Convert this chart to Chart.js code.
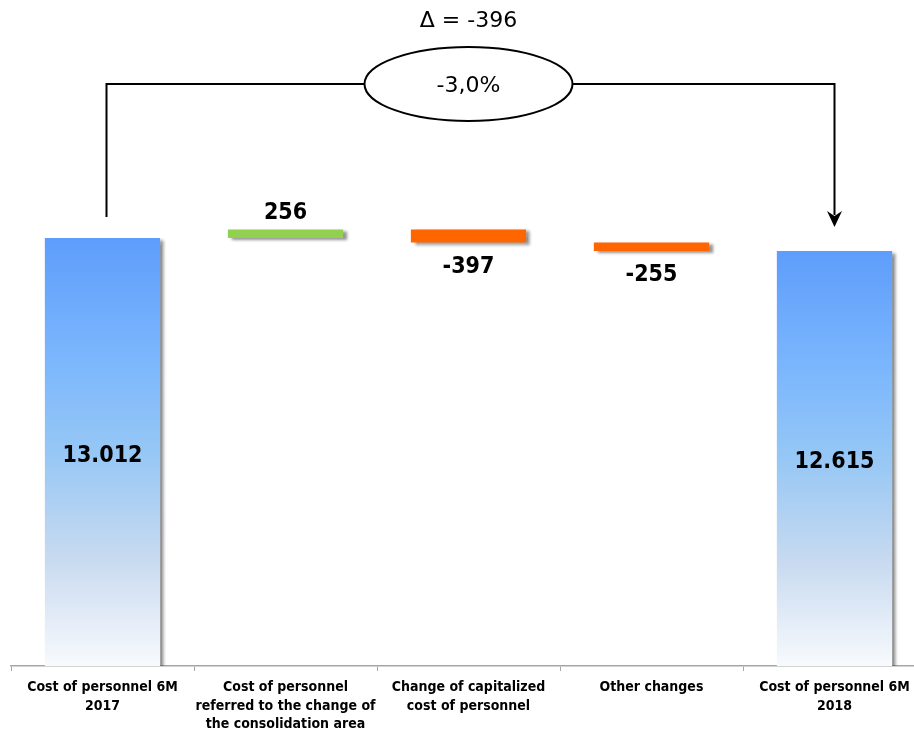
<!DOCTYPE html>
<html>
<head>
<meta charset="utf-8">
<script src="https://cdn.jsdelivr.net/npm/chart.js@4.4.1/dist/chart.umd.min.js"></script>
<style>
  html, body { margin: 0; padding: 0; background: #fff; overflow: hidden; }
  #wrap { position: relative; width: 930px; height: 731px; }
</style>
</head>
<body>
<div id="wrap"><canvas id="chart"></canvas></div>
<script>
// Personnel cost bridge, 6M 2017 -> 6M 2018
const categories = [
  ['Cost of personnel 6M', '2017'],
  ['Cost of personnel', 'referred to the change of', 'the consolidation area'],
  ['Change of capitalized', 'cost of personnel'],
  ['Other changes'],
  ['Cost of personnel 6M', '2018']
];
const startTotal = 13012;
const changes = [256, -397, -255];
const endTotal = 12615;
const axisTop = 20000;

const FONT = "'DejaVu Sans Condensed', 'DejaVu Sans', sans-serif";
const NOTE_FONT = "'DejaVu Sans', sans-serif";

// floating ranges for the bridge
const ranges = [[0, startTotal]];
let running = startTotal;
changes.forEach(c => { ranges.push([running, running + c]); running += c; });
ranges.push([0, endTotal]);
const shownValues = [startTotal, ...changes, endTotal];

const deltaTotal = changes.reduce((a, b) => a + b, 0);
const deltaPct = deltaTotal / startTotal * 100;

function fmtThousands(v) {
  const s = String(Math.abs(v)).replace(/\B(?=(\d{3})+(?!\d))/g, '.');
  return (v < 0 ? '-' : '') + s;
}

function barFill(ctx) {
  const i = ctx.dataIndex;
  if (i > 0 && i < shownValues.length - 1) {
    return changes[i - 1] >= 0 ? '#92D050' : '#FF6600';
  }
  const chart = ctx.chart;
  const y = chart.scales.y;
  if (!chart.chartArea || !y) return '#7DB8FD';
  const top = y.getPixelForValue(shownValues[i]);
  const bottom = y.getPixelForValue(0);
  const g = chart.ctx.createLinearGradient(0, top, 0, bottom);
  g.addColorStop(0, '#5E9DFB');
  g.addColorStop(0.3, '#7DB8FD');
  g.addColorStop(0.5, '#96C7F5');
  g.addColorStop(0.75, '#C8DAF0');
  g.addColorStop(1, '#F8FAFD');
  return g;
}

const shadowPlugin = {
  id: 'barShadow',
  beforeDatasetsDraw(chart) {
    const c = chart.ctx;
    c.save();
    c.shadowColor = 'rgba(0,0,0,0.42)';
    c.shadowOffsetX = 4;
    c.shadowOffsetY = 2;
    c.shadowBlur = 3;
  },
  afterDatasetsDraw(chart) {
    chart.ctx.restore();
  }
};

const valueLabels = {
  id: 'valueLabels',
  afterDatasetsDraw(chart) {
    const c = chart.ctx;
    const y = chart.scales.y;
    const meta = chart.getDatasetMeta(0);
    c.save();
    c.fillStyle = '#000';
    c.font = 'bold 23px ' + FONT;
    c.textAlign = 'center';
    c.textBaseline = 'middle';
    meta.data.forEach((bar, i) => {
      const v = shownValues[i];
      const [a, b] = ranges[i];
      let ty;
      if (i === 0 || i === shownValues.length - 1) {
        ty = (y.getPixelForValue(a) + y.getPixelForValue(b)) / 2 + 4;
      } else if (v >= 0) {
        ty = y.getPixelForValue(Math.max(a, b)) - 16;
      } else {
        ty = y.getPixelForValue(Math.min(a, b)) + 24.5;
      }
      c.fillText(fmtThousands(v), bar.x, ty);
    });
    c.restore();
  }
};

const bridgeNote = {
  id: 'bridgeNote',
  afterDraw(chart) {
    const c = chart.ctx;
    const x = chart.scales.x;
    const y = chart.scales.y;
    const xl = x.getPixelForValue(0) + 4;
    const xr = x.getPixelForValue(categories.length - 1);
    const xm = x.getPixelForValue(2);
    const lineY = 84;
    const rx = 104, ry = 37;
    const leftEnd = y.getPixelForValue(startTotal) - 21;
    const tipY = y.getPixelForValue(endTotal) - 24;
    c.save();
    c.strokeStyle = '#000';
    c.lineWidth = 2;
    c.beginPath();
    c.moveTo(xl, leftEnd);
    c.lineTo(xl, lineY);
    c.lineTo(xm - rx, lineY);
    c.moveTo(xm + rx, lineY);
    c.lineTo(xr, lineY);
    c.lineTo(xr, tipY - 12);
    c.stroke();
    c.beginPath();
    c.ellipse(xm, lineY, rx, ry, 0, 0, Math.PI * 2);
    c.stroke();
    // arrow head
    c.fillStyle = '#000';
    c.beginPath();
    c.moveTo(xr - 7.5, tipY - 16);
    c.lineTo(xr, tipY - 11);
    c.lineTo(xr + 7.5, tipY - 16);
    c.lineTo(xr, tipY);
    c.closePath();
    c.fill();
    c.textAlign = 'center';
    c.textBaseline = 'middle';
    c.font = '22px ' + NOTE_FONT;
    c.fillText('\u0394 = ' + fmtThousands(deltaTotal), xm, 21);
    c.fillText(deltaPct.toFixed(1).replace('.', ',') + '%', xm, lineY + 2);
    c.restore();
  }
};

new Chart(document.getElementById('chart'), {
  type: 'bar',
  data: {
    labels: categories,
    datasets: [{
      data: ranges,
      backgroundColor: barFill,
      borderWidth: 0,
      borderSkipped: false,
      barPercentage: 0.63,
      categoryPercentage: 1.0
    }]
  },
  options: {
    responsive: true,
    maintainAspectRatio: false,
    animation: false,
    events: [],
    layout: { padding: { top: 8, left: 11, right: 4, bottom: 0 } },
    plugins: {
      legend: { display: false },
      tooltip: { enabled: false },
      title: { display: false }
    },
    scales: {
      x: {
        border: { display: true, color: '#A6A6A6', width: 1.5 },
        grid: {
          display: true,
          offset: true,
          drawOnChartArea: false,
          drawTicks: true,
          tickLength: 5,
          color: '#A6A6A6'
        },
        ticks: {
          autoSkip: false,
          maxRotation: 0,
          padding: 7,
          color: '#000',
          font: { family: FONT, size: 14, weight: 'bold', lineHeight: 1.33 }
        },
        afterFit(scale) { scale.height = 65; }
      },
      y: {
        display: false,
        min: 0,
        max: axisTop
      }
    }
  },
  plugins: [shadowPlugin, valueLabels, bridgeNote]
});
</script>
</body>
</html>
